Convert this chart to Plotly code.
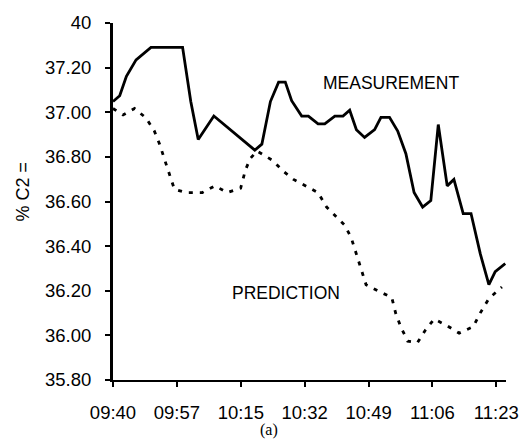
import plotly.graph_objects as go

# minutes after 09:40
meas_t = [0, 1.8, 3.6, 6.2, 10.2, 18.7, 20.9, 22.9, 27.1, 38.1, 40.0, 42.3, 44.5, 46.3, 48.0,
          50.7, 52.5, 55.1, 56.9, 59.6, 61.8, 63.6, 65.4, 67.6, 70.3, 72.0, 74.3, 76.5, 78.7,
          80.9, 83.2, 85.4, 87.4, 89.8, 91.6, 94.1, 96.2, 98.7, 101.0, 102.7, 105.4]
meas_y = [37.048, 37.074, 37.161, 37.235, 37.291, 37.291, 37.048, 36.878, 36.983, 36.830,
          36.857, 37.048, 37.135, 37.135, 37.052, 36.983, 36.983, 36.948, 36.948, 36.983,
          36.983, 37.009, 36.922, 36.887, 36.922, 36.977, 36.977, 36.916, 36.814, 36.640,
          36.575, 36.604, 36.945, 36.670, 36.699, 36.546, 36.546, 36.365, 36.227, 36.286, 36.322]

pred_t = [0, 2.7, 5.8, 8.9, 11.1, 12.5, 14.2, 15.6, 16.5, 19.6, 24.0, 27.4, 30.7, 34.3, 35.6,
          36.9, 38.7, 42.7, 45.8, 48.5, 51.6, 55.1, 57.4, 59.6, 62.3, 64.0, 65.4, 66.7, 68.0,
          71.2, 74.9, 76.0, 77.4, 79.2, 81.8, 84.0, 86.3, 89.8, 93.0, 96.8, 98.7, 101.0, 104.5]
pred_y = [37.017, 36.988, 37.017, 36.974, 36.916, 36.858, 36.771, 36.699, 36.655, 36.640,
          36.640, 36.670, 36.640, 36.660, 36.742, 36.793, 36.826, 36.786, 36.735, 36.699,
          36.670, 36.640, 36.575, 36.539, 36.493, 36.438, 36.365, 36.300, 36.227, 36.199,
          36.170, 36.097, 36.035, 35.974, 35.967, 36.025, 36.073, 36.043, 36.010, 36.039,
          36.101, 36.165, 36.217]

x_tick_labels = ["09:40", "09:57", "10:15", "10:32", "10:49", "11:06", "11:23"]
x_tick_vals = [i * 103 / 6 for i in range(len(x_tick_labels))]
y_tick_vals = [35.8, 36.0, 36.2, 36.4, 36.6, 36.8, 37.0, 37.2, 37.4]
y_tick_labels = ["35.80", "36.00", "36.20", "36.40", "36.60", "36.80", "37.00", "37.20", "40"]

XR = [0, 105.6]
YR = [35.8, 37.4]
TF = dict(family="Liberation Sans", size=18.5, color="black")

fig = go.Figure()
fig.add_trace(go.Scatter(x=meas_t, y=meas_y, mode="lines",
                         line=dict(color="black", width=2.8), showlegend=False))
fig.add_trace(go.Scatter(x=pred_t, y=pred_y, mode="lines",
                         line=dict(color="black", width=2.8, dash="4px,7px"), showlegend=False))

fig.update_layout(
    width=531, height=443,
    margin=dict(l=113, r=22, t=12, b=63),
    paper_bgcolor="white", plot_bgcolor="white",
    xaxis=dict(range=XR, tickvals=x_tick_vals, ticktext=x_tick_labels,
               showgrid=False, zeroline=False, showline=True, linecolor="black", linewidth=2,
               ticks="outside", ticklen=5, tickwidth=1.5, tickcolor="black",
               tickfont=TF, ticklabelstandoff=10),
    yaxis=dict(range=YR, tickvals=y_tick_vals, ticktext=y_tick_labels,
               showgrid=False, zeroline=False, showline=True, linecolor="black", linewidth=3,
               ticks="outside", ticklen=5, tickwidth=1.5, tickcolor="black",
               tickfont=TF, ticklabelstandoff=10),
    xaxis2=dict(range=XR, tickvals=x_tick_vals, overlaying="x", anchor="y",
                showgrid=False, zeroline=False, showline=False, showticklabels=False,
                ticks="inside", ticklen=5, tickwidth=1.5, tickcolor="black", side="bottom"),
    yaxis2=dict(range=YR, tickvals=y_tick_vals, overlaying="y", anchor="x",
                showgrid=False, zeroline=False, showline=False, showticklabels=False,
                ticks="inside", ticklen=5, tickwidth=1.5, tickcolor="black", side="left"),
)

ann = dict(showarrow=False, xanchor="center", yanchor="middle")
fig.add_annotation(x=74.6, y=37.133, xref="x", yref="y", text="MEASUREMENT",
                   font=dict(family="Liberation Sans", size=17.5, color="black"), **ann)
fig.add_annotation(x=46.5, y=36.191, xref="x", yref="y", text="PREDICTION",
                   font=dict(family="Liberation Sans", size=17.5, color="black"), **ann)
fig.add_annotation(x=-0.2298, y=0.527, xref="paper", yref="paper", text="% C2 =",
                   textangle=-90,
                   font=dict(family="Liberation Sans", size=18, color="black"), **ann)
fig.add_annotation(x=0.396, y=-0.139, xref="paper", yref="paper", text="(a)",
                   font=dict(family="Liberation Serif", size=16, color="black"), **ann)

fig.write_html("out.html")
